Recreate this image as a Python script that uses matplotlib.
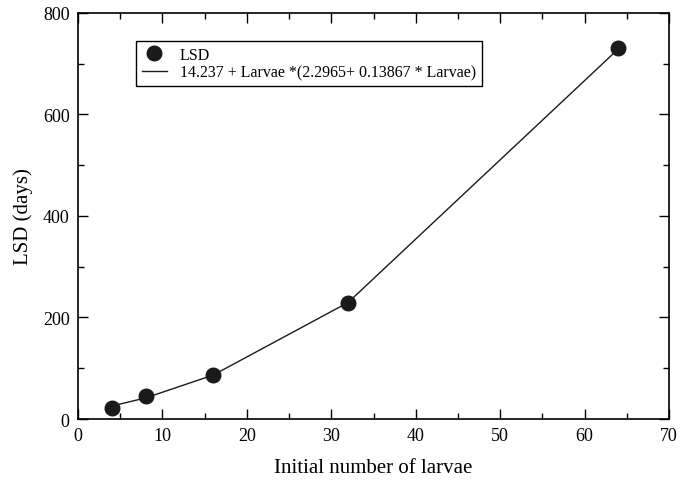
import matplotlib.pyplot as plt
from matplotlib.ticker import MultipleLocator

# Initial number of larvae and observed LSD (days)
larvae = [4, 8, 16, 32, 64]
lsd_days = [22, 45, 86, 228, 730]
# fitted LSD at the same larvae counts
lsd_fit = [25.6, 41.5, 86.5, 229.7, 729.2]

fit_label = "14.237 + Larvae *(2.2965+ 0.13867 * Larvae)"

plt.rcParams['font.family'] = ['Liberation Serif', 'DejaVu Serif']
plt.rcParams['font.size'] = 13

fig = plt.figure(figsize=(6.82, 4.81), dpi=100)
ax = fig.add_axes([0.1144, 0.1268, 0.8666, 0.8442])

ax.plot(larvae, lsd_days, 'o', color='#1a1a1a', markersize=10.5, label='LSD', zorder=3)
ax.plot(larvae, lsd_fit, '-', color='#1a1a1a', linewidth=1.0, label=fit_label)

ax.set_xlim(0, 70)
ax.set_ylim(0, 800)
ax.xaxis.set_major_locator(MultipleLocator(10))
ax.xaxis.set_minor_locator(MultipleLocator(5))
ax.yaxis.set_major_locator(MultipleLocator(200))
ax.yaxis.set_minor_locator(MultipleLocator(100))
ax.tick_params(which='both', direction='in', top=True, right=True, width=1, labelsize=13)
ax.tick_params(which='major', length=7, pad=6)
ax.tick_params(which='minor', length=4)
for s in ax.spines.values():
    s.set_linewidth(1.2)

ax.set_xlabel('Initial number of larvae', fontsize=15, labelpad=10)
ax.set_ylabel('LSD (days)', fontsize=15, labelpad=7)

leg = ax.legend(loc='upper left', bbox_to_anchor=(0.098, 0.931), borderaxespad=0,
                fancybox=False, edgecolor='black', framealpha=1, fontsize=11.5,
                handlelength=1.6, borderpad=0.35, labelspacing=0.1, handletextpad=0.8)
leg.get_frame().set_linewidth(1.0)

plt.savefig('out.png', dpi=100)
